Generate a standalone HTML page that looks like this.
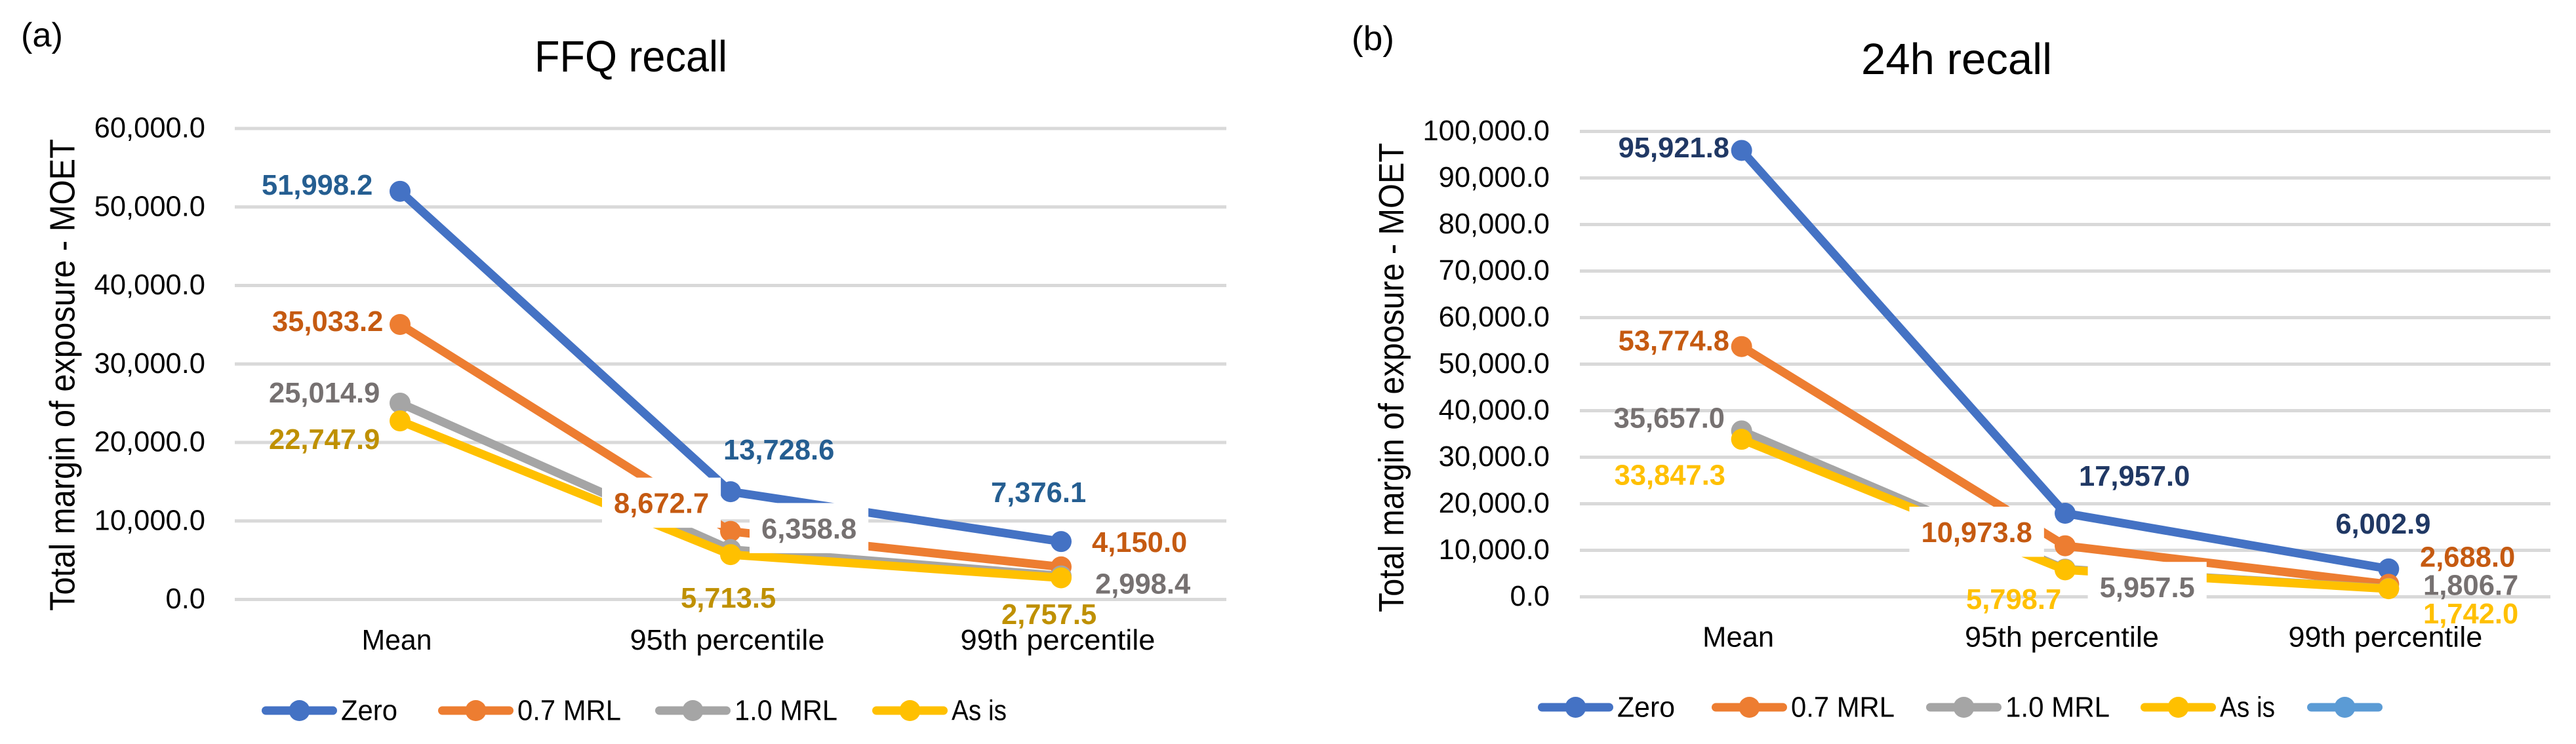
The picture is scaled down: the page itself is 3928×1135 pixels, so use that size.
<!DOCTYPE html>
<html lang="en">
<head>
<meta charset="utf-8">
<title>Total margin of exposure - FFQ recall and 24h recall</title>
<style>
  html, body { margin: 0; padding: 0; background: #ffffff; }
  body { width: 3928px; height: 1135px; overflow: hidden; }
  svg { display: block; font-family: "Liberation Sans", sans-serif; }
</style>
</head>
<body>
<svg id="figure" xmlns="http://www.w3.org/2000/svg" width="3928" height="1135" viewBox="0 0 3928 1135">
  <rect x="0" y="0" width="3928" height="1135" fill="#ffffff"/>
  <text x="32" y="71" font-size="52" fill="#000000" textLength="64" lengthAdjust="spacingAndGlyphs">(a)</text>
  <text x="2061" y="76" font-size="52" fill="#000000" textLength="65" lengthAdjust="spacingAndGlyphs">(b)</text>
  <text x="815" y="109" font-size="67" fill="#000000" textLength="294" lengthAdjust="spacingAndGlyphs">FFQ recall</text>
  <text x="2838" y="113" font-size="67" fill="#000000" textLength="291" lengthAdjust="spacingAndGlyphs">24h recall</text>
  <text transform="translate(113.5 932) rotate(-90)" x="0" y="0" font-size="54" fill="#000000" textLength="720" lengthAdjust="spacingAndGlyphs">Total margin of exposure - MOET</text>
  <text transform="translate(2140 934) rotate(-90)" x="0" y="0" font-size="54" fill="#000000" textLength="716" lengthAdjust="spacingAndGlyphs">Total margin of exposure - MOET</text>
  <g id="ffq-chart"></g>
  <g id="h24-chart"></g>
</svg>
<script>
// ---- Chart data ----
const categories = ['Mean', '95th percentile', '99th percentile'];
const ffqSeriesNames = ['Zero', '0.7 MRL', '1.0 MRL', 'As is'];
const h24SeriesNames = ['Zero', '0.7 MRL', '1.0 MRL', 'As is', ''];

const ffqZero = [51998.2, 13728.6, 7376.1];
const ffqMrl07 = [35033.2, 8672.7, 4150.0];
const ffqMrl10 = [25014.9, 6358.8, 2998.4];
const ffqAsIs = [22747.9, 5713.5, 2757.5];

const h24Zero = [95921.8, 17957.0, 6002.9];
const h24Mrl07 = [53774.8, 10973.8, 2688.0];
const h24Mrl10 = [35657.0, 5957.5, 1806.7];
const h24AsIs = [33847.3, 5798.7, 1742.0];

const ffqTicks = [0, 10000, 20000, 30000, 40000, 50000, 60000];
const h24Ticks = [0, 10000, 20000, 30000, 40000, 50000, 60000, 70000, 80000, 90000, 100000];

// ---- Styling and layout ----
const SVG_NS = 'http://www.w3.org/2000/svg';
const lineColors = ['#4472c4', '#ed7d31', '#a5a5a5', '#ffc000', '#5b9bd5'];
const ffqLabelColors = ['#255e91', '#c55a11', '#767171', '#bf9000'];
const h24LabelColors = ['#203864', '#c55a11', '#767171', '#ffc000'];
const LINE_WIDTH = 13;
const MARKER_RADIUS = 16;
const LABEL_SIZE = 43.5;

// Placement of each printed value relative to its point: [dx, dy, hasWhiteBox]
const ffqLabelPlacement = [
  [[-211, 5, 0], [-11, -49, 0], [-107, -60, 0]],
  [[-195, 10, 0], [-178, -28, 1], [47, -23, 0]],
  [[-200, -1, 0], [47, -17, 1], [52, 27, 0]],
  [[-200, 43, 0], [-76, 81, 0], [-91, 70.5, 0]]
];
const h24LabelPlacement = [
  [[-188, 10.6, 0], [21, -42, 0], [-81, -54, 0]],
  [[-188, 6, 0], [-219.5, -5.6, 1], [47.7, -27, 0]],
  [[-195, -5, 0], [52.6, 43, 1], [52.7, 10, 0]],
  [[-194, 69.4, 0], [-151, 59.7, 0], [52.7, 53, 0]]
];

function formatValue(v) {
  return v.toLocaleString('en-US', { minimumFractionDigits: 1, maximumFractionDigits: 1 });
}

function make(tag, attrs, parent) {
  const node = document.createElementNS(SVG_NS, tag);
  Object.keys(attrs).forEach(function (k) { node.setAttribute(k, attrs[k]); });
  parent.appendChild(node);
  return node;
}

function drawChart(cfg) {
  const root = document.getElementById(cfg.rootId);

  function xScale(i) {
    return cfg.plotLeft + (cfg.plotRight - cfg.plotLeft) * (i + 0.5) / categories.length;
  }
  function yScale(v) {
    return cfg.yZero - (v / cfg.yMax) * (cfg.yZero - cfg.yTop);
  }

  // Gridlines and y tick labels
  cfg.ticks.forEach(function (tick) {
    const grid = make('line', {
      x1: cfg.plotLeft, x2: cfg.plotRight, y1: yScale(tick), y2: yScale(tick),
      stroke: '#d9d9d9', 'stroke-width': 5
    }, root);
    
    

    const label = make('text', {
      x: cfg.tickRight, y: yScale(tick) + 13.5, 'text-anchor': 'end',
      'font-size': 43.5, fill: '#000000'
    }, root);
    label.textContent = formatValue(tick);
    
    
  });

  // Category labels
  categories.forEach(function (name, i) {
    const label = make('text', {
      x: xScale(i) - 5, y: cfg.categoryBaseline, 'text-anchor': 'middle',
      'font-size': 44, fill: '#000000',
      textLength: cfg.categoryWidths[i], lengthAdjust: 'spacingAndGlyphs'
    }, root);
    label.textContent = name;
    
    
  });

  // Series lines with markers
  cfg.series.forEach(function (values, s) {
    const group = make('g', {}, root);
    
    

    const pts = values.map(function (v, i) { return xScale(i) + ',' + yScale(v); }).join(' ');
    const line = make('polyline', {
      points: pts, fill: 'none', stroke: lineColors[s],
      'stroke-width': LINE_WIDTH, 'stroke-linejoin': 'round'
    }, group);
    
    

    values.forEach(function (v, i) {
      const marker = make('circle', {
        cx: xScale(i), cy: yScale(v), r: MARKER_RADIUS, fill: lineColors[s]
      }, group);
      
      
    });
  });

  // Printed values (drawn last; some carry a white background box)
  cfg.series.forEach(function (values, s) {
    values.forEach(function (v, i) {
      const place = cfg.placement[s][i];
      const left = xScale(i) + place[0];
      const base = yScale(v) + place[1];
      let box = null;
      if (place[2]) {
        box = make('rect', {
          x: left - 18, y: base - 54, height: 76.5, fill: '#ffffff'
        }, root);
        
        
      }
      const label = make('text', {
        x: left, y: base, 'font-size': LABEL_SIZE, 'font-weight': 'bold',
        fill: cfg.labelColors[s]
      }, root);
      label.textContent = formatValue(v);
      
      
      if (box) {
        box.setAttribute('width', label.getComputedTextLength() + 36);
      }
    });
  });

  // Legend
  cfg.seriesNames.forEach(function (name, s) {
    const start = cfg.legendX[s];
    const entry = make('g', {}, root);
    
    

    const swatch = make('line', {
      x1: start + 6.5, x2: start + 108.5, y1: cfg.legendY, y2: cfg.legendY,
      stroke: lineColors[s], 'stroke-width': LINE_WIDTH, 'stroke-linecap': 'round'
    }, entry);
    
    

    const dot = make('circle', {
      cx: start + 57.5, cy: cfg.legendY, r: MARKER_RADIUS, fill: lineColors[s]
    }, entry);
    
    

    if (name) {
      const text = make('text', {
        x: start + 121, y: cfg.legendY + 14.5, 'font-size': 44, fill: '#000000',
        textLength: cfg.legendWidths[s], lengthAdjust: 'spacingAndGlyphs'
      }, entry);
      text.textContent = name;
      
      
    }
  });
}

drawChart({
  rootId: 'ffq-chart',
  series: [ffqZero, ffqMrl07, ffqMrl10, ffqAsIs],
  seriesNames: ffqSeriesNames,
  ticks: ffqTicks,
  placement: ffqLabelPlacement,
  labelColors: ffqLabelColors,
  plotLeft: 358, plotRight: 1870,
  yZero: 914.5, yTop: 196, yMax: 60000,
  tickRight: 313,
  categoryBaseline: 991,
  categoryWidths: [107, 297, 297],
  legendX: [399, 668, 999, 1330],
  legendY: 1084,
  legendWidths: [86, 158, 157, 84]
});

drawChart({
  rootId: 'h24-chart',
  series: [h24Zero, h24Mrl07, h24Mrl10, h24AsIs],
  seriesNames: h24SeriesNames,
  ticks: h24Ticks,
  placement: h24LabelPlacement,
  labelColors: h24LabelColors,
  plotLeft: 2409, plotRight: 3889,
  yZero: 910.5, yTop: 200.5, yMax: 100000,
  tickRight: 2363,
  categoryBaseline: 986.5,
  categoryWidths: [109, 296, 296],
  legendX: [2345, 2610, 2937, 3264, 3518],
  legendY: 1079,
  legendWidths: [88, 158, 159, 84]
});
</script>
</body>
</html>
